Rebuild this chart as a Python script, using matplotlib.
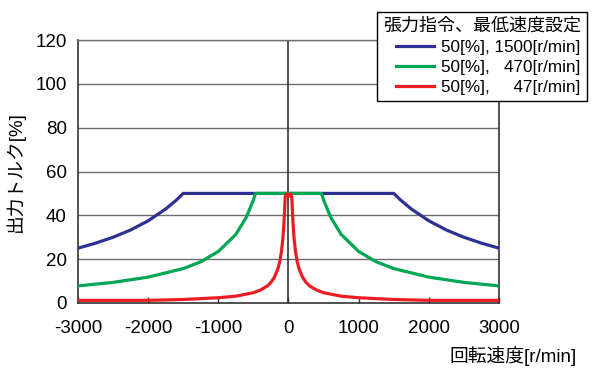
import numpy as np
import matplotlib
matplotlib.use("Agg")
import matplotlib.pyplot as plt

plt.rcParams["font.family"] = ["Liberation Sans", "Noto Sans CJK JP"]
plt.rcParams["axes.unicode_minus"] = False

# positive-speed half of each curve (curves are symmetric about 0)
speed_blue = [0, 1500, 1600, 1750, 2000, 2250, 2500, 2750, 3000]
torque_blue = [50, 50, 46.9, 42.9, 37.5, 33.3, 30.0, 27.3, 25.0]

speed_green = [0, 470, 500, 600, 750, 1000, 1250, 1500, 2000, 2500, 3000]
torque_green = [50, 50, 47.0, 39.2, 31.3, 23.5, 18.8, 15.7, 11.8, 9.4, 7.8]

speed_red = [0, 15, 30, 47, 55, 65, 80, 100, 125, 150, 200, 250, 300, 400,
             500, 750, 1000, 1500, 2000, 3000]
torque_red = [48.5, 49.5, 49.8, 48.5, 42.7, 36.2, 29.4, 23.5, 18.8, 15.7, 11.8,
              9.4, 7.8, 5.9, 4.7, 3.1, 2.4, 1.6, 1.2, 1.2]

labels = ["50[%], 1500[r/min]", "50[%],   470[r/min]", "50[%],     47[r/min]"]
colors = ["#2e3192", "#00a651", "#ed1c24"]

xticks = [-3000, -2000, -1000, 0, 1000, 2000, 3000]
yticks = [0, 20, 40, 60, 80, 100, 120]


def mirror(s, t):
    s = np.asarray(s, float)
    t = np.asarray(t, float)
    return np.concatenate([-s[::-1], s[1:]]), np.concatenate([t[::-1], t[1:]])


fig = plt.figure(figsize=(5.93, 3.73), dpi=100)
ax = fig.add_axes([0.1315, 0.1877, 0.71, 0.705])

for y in yticks[1:]:
    ax.axhline(y, color="#6d6d6d", lw=1.0, zorder=1)
ax.axvline(0, color="#333333", lw=1.2, zorder=1)

lines = []
for (s, t), c, lab in zip(
    [(speed_blue, torque_blue), (speed_green, torque_green), (speed_red, torque_red)],
    colors, labels):
    xs, ys = mirror(s, t)
    ln, = ax.plot(xs, ys, color=c, lw=2.3, label=lab, zorder=3,
                  solid_joinstyle="round")
    lines.append(ln)

ax.set_xlim(-3000, 3000)
ax.set_ylim(0, 120)
ax.set_xticks(xticks)
ax.set_yticks(yticks)
ax.tick_params(axis="x", direction="in", length=4, width=1, labelsize=13.5, pad=12,
               color="#333333")
ax.tick_params(axis="y", length=0, labelsize=13.5, pad=8)
for side in ["left", "bottom", "right"]:
    ax.spines[side].set_color("#333333")
    ax.spines[side].set_linewidth(1.2)
ax.spines["top"].set_color("#6d6d6d")
ax.spines["top"].set_linewidth(1.0)

ax.set_ylabel("出力トルク[%]", fontsize=13.5, labelpad=8)
fig.text(0.973, 0.018, "回転速度[r/min]", fontsize=13.5, ha="right", va="bottom")

leg = fig.legend(handles=lines, title="張力指令、最低速度設定",
                 loc="upper right", bbox_to_anchor=(1.004, 0.992),
                 fontsize=12.3, frameon=True,
                 fancybox=False, edgecolor="black", framealpha=1,
                 handlelength=2.2, handletextpad=0.45, borderpad=0.35,
                 labelspacing=0.3, alignment="right")
leg.get_title().set_fontsize(13)
leg.get_frame().set_linewidth(1.0)

fig.savefig("out.png", dpi=100)
